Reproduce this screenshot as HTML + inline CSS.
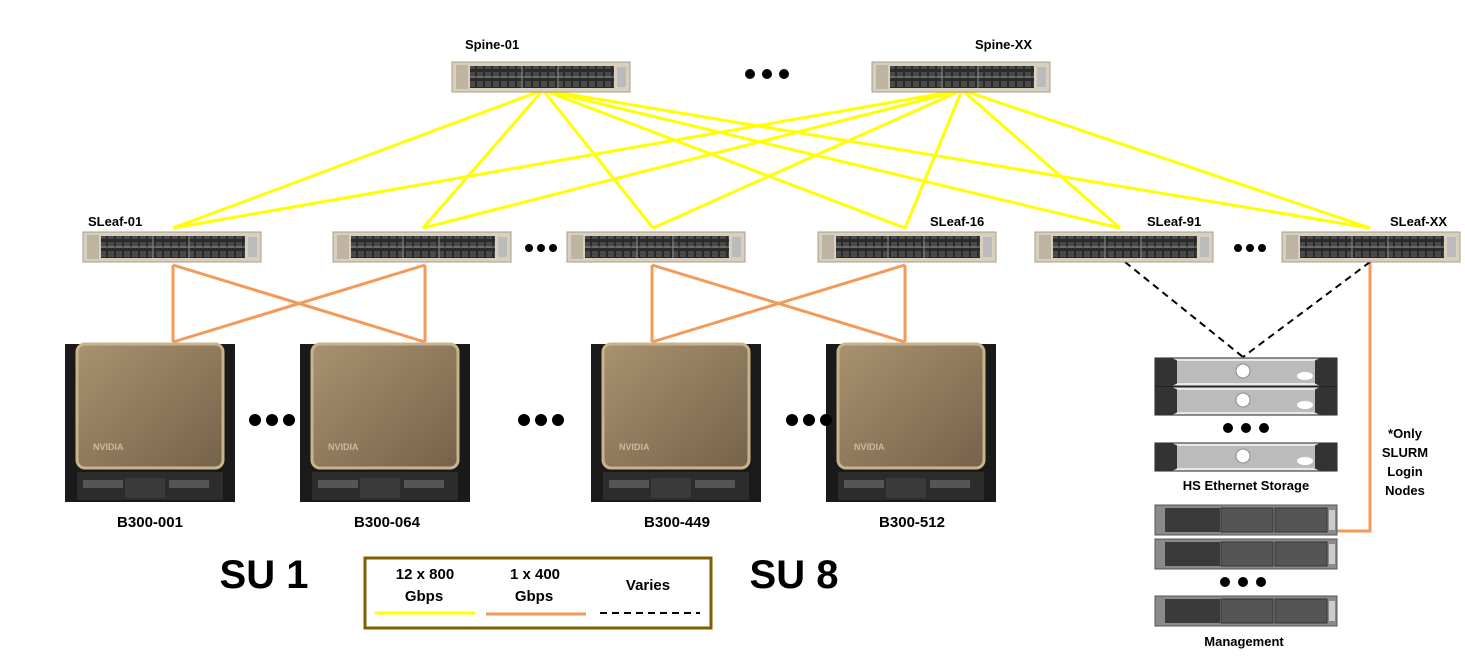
<!DOCTYPE html>
<html><head><meta charset="utf-8"><style>
html,body{margin:0;padding:0;background:#fff;}
svg{display:block;font-family:"Liberation Sans",sans-serif;}
.lb{font-weight:bold;font-size:13px;fill:#000;}
</style></head><body>
<svg width="1465" height="659" viewBox="0 0 1465 659" xmlns="http://www.w3.org/2000/svg">
<defs>
<pattern id="ports" width="8" height="9" patternUnits="userSpaceOnUse">
<rect width="8" height="9" fill="#2a2a2a"/><rect x="1" y="1" width="6" height="6" fill="#4a4a4a"/>
</pattern>
<g id="sw">
<rect x="0" y="0" width="178" height="30" fill="#d8cfbf" stroke="#a89c88"/>
<rect x="4" y="3" width="12" height="24" fill="#bfb4a0"/>
<rect x="18" y="4" width="144" height="22" fill="url(#ports)"/>
<line x1="18" y1="15" x2="162" y2="15" stroke="#888" stroke-width="1"/>
<line x1="70" y1="4" x2="70" y2="26" stroke="#888"/>
<line x1="106" y1="4" x2="106" y2="26" stroke="#888"/>
<rect x="165" y="5" width="9" height="20" fill="#bbb"/>
</g>
<linearGradient id="gold" x1="0" y1="0" x2="1" y2="1"><stop offset="0" stop-color="#a89270"/><stop offset="1" stop-color="#76624a"/></linearGradient>
<g id="srv">
<rect x="0" y="0" width="170" height="158" fill="#1a1a1a"/>
<rect x="12" y="0" width="146" height="124" rx="8" fill="url(#gold)" stroke="#c8b48c" stroke-width="3"/>
<text x="28" y="106" font-size="9" font-weight="bold" fill="#c8bba0">NVIDIA</text>
<rect x="12" y="128" width="146" height="28" fill="#2c2c2c"/>
<rect x="18" y="136" width="40" height="8" fill="#555"/>
<rect x="104" y="136" width="40" height="8" fill="#555"/>
<rect x="60" y="134" width="40" height="20" fill="#3a3a3a"/>
</g>
<g id="stor">
<rect x="0" y="0" width="182" height="28" fill="#e8e8e8" stroke="#222"/>
<path d="M0 0h14a14 14 0 0 1 0 28H0z" fill="#333"/>
<path d="M182 0h-14a14 14 0 0 0 0 28h14z" fill="#333"/>
<rect x="22" y="3" width="138" height="22" fill="#bbb"/>
<circle cx="88" cy="13" r="7" fill="#fff" stroke="#888"/>
<ellipse cx="150" cy="18" rx="8" ry="4" fill="#fff"/>
</g>
<g id="mgmt">
<rect x="0" y="0" width="182" height="30" fill="#8a8a8a" stroke="#555"/>
<rect x="10" y="3" width="55" height="24" fill="#3a3a3a"/>
<rect x="66" y="3" width="52" height="24" fill="#555" stroke="#333"/>
<rect x="120" y="3" width="52" height="24" fill="#555" stroke="#333"/>
<rect x="174" y="5" width="6" height="20" fill="#ccc"/>
</g>
</defs>

<g stroke="#ffff00" stroke-width="3" fill="none">
<path d="M543 90L173 228M543 90L423 228M543 90L653 228M543 90L905 228M543 90L1120 228M543 90L1370 228"/>
<path d="M962 90L173 228M962 90L423 228M962 90L653 228M962 90L905 228M962 90L1120 228M962 90L1370 228"/>
</g>
<g stroke="#f4995a" stroke-width="3" fill="none">
<path d="M173 265V342M425 265V342M173 265L425 342M425 265L173 342"/>
<path d="M652 265V342M905 265V342M652 265L905 342M905 265L652 342"/>
<path d="M1370 262V531H1337"/>
</g>
<g stroke="#000" stroke-width="2" stroke-dasharray="7,5" fill="none">
<path d="M1125 262L1243 357M1370 262L1243 357"/>
</g>

<use href="#sw" x="452" y="62"/><use href="#sw" x="872" y="62"/>
<text class="lb" x="465" y="49">Spine-01</text><text class="lb" x="975" y="49">Spine-XX</text>
<g fill="#000"><circle cx="750" cy="74" r="5"/><circle cx="767" cy="74" r="5"/><circle cx="784" cy="74" r="5"/></g>

<use href="#sw" x="83" y="232"/><use href="#sw" x="333" y="232"/><use href="#sw" x="567" y="232"/>
<use href="#sw" x="818" y="232"/><use href="#sw" x="1035" y="232"/><use href="#sw" x="1282" y="232"/>
<text class="lb" x="88" y="226">SLeaf-01</text><text class="lb" x="930" y="226">SLeaf-16</text>
<text class="lb" x="1147" y="226">SLeaf-91</text><text class="lb" x="1390" y="226">SLeaf-XX</text>
<g fill="#000">
<circle cx="529" cy="248" r="4"/><circle cx="541" cy="248" r="4"/><circle cx="553" cy="248" r="4"/>
<circle cx="1238" cy="248" r="4"/><circle cx="1250" cy="248" r="4"/><circle cx="1262" cy="248" r="4"/>
</g>

<use href="#srv" x="65" y="344"/><use href="#srv" x="300" y="344"/>
<use href="#srv" x="591" y="344"/><use href="#srv" x="826" y="344"/>
<g fill="#000">
<circle cx="255" cy="420" r="6"/><circle cx="272" cy="420" r="6"/><circle cx="289" cy="420" r="6"/>
<circle cx="524" cy="420" r="6"/><circle cx="541" cy="420" r="6"/><circle cx="558" cy="420" r="6"/>
<circle cx="792" cy="420" r="6"/><circle cx="809" cy="420" r="6"/><circle cx="826" cy="420" r="6"/>
</g>
<g class="lb" text-anchor="middle" style="font-size:15px">
<text x="150" y="527">B300-001</text><text x="387" y="527">B300-064</text>
<text x="677" y="527">B300-449</text><text x="912" y="527">B300-512</text>
</g>
<text x="264" y="588" font-size="40" font-weight="bold" text-anchor="middle">SU 1</text>
<text x="794" y="588" font-size="40" font-weight="bold" text-anchor="middle">SU 8</text>

<rect x="365" y="558" width="346" height="70" fill="#fff" stroke="#7f6000" stroke-width="3"/>
<g font-weight="bold" font-size="15" text-anchor="middle">
<text x="425" y="579">12 x 800</text><text x="424" y="601">Gbps</text>
<text x="535" y="579">1 x 400</text><text x="534" y="601">Gbps</text>
<text x="648" y="590">Varies</text>
</g>
<line x1="375" y1="613" x2="475" y2="613" stroke="#ffff00" stroke-width="3"/>
<line x1="486" y1="614" x2="586" y2="614" stroke="#f4995a" stroke-width="3"/>
<line x1="600" y1="613" x2="700" y2="613" stroke="#000" stroke-width="2" stroke-dasharray="7,5"/>

<use href="#stor" x="1155" y="358"/><use href="#stor" x="1155" y="387"/><use href="#stor" x="1155" y="443"/>
<g fill="#000"><circle cx="1228" cy="428" r="5"/><circle cx="1246" cy="428" r="5"/><circle cx="1264" cy="428" r="5"/>
<circle cx="1225" cy="582" r="5"/><circle cx="1243" cy="582" r="5"/><circle cx="1261" cy="582" r="5"/></g>
<text class="lb" x="1246" y="490" text-anchor="middle">HS Ethernet Storage</text>
<use href="#mgmt" x="1155" y="505"/><use href="#mgmt" x="1155" y="539"/><use href="#mgmt" x="1155" y="596"/>
<text class="lb" x="1244" y="646" text-anchor="middle">Management</text>
<g class="lb" text-anchor="middle">
<text x="1405" y="438">*Only</text><text x="1405" y="457">SLURM</text>
<text x="1405" y="476">Login</text><text x="1405" y="495">Nodes</text>
</g>
</svg>
</body></html>
